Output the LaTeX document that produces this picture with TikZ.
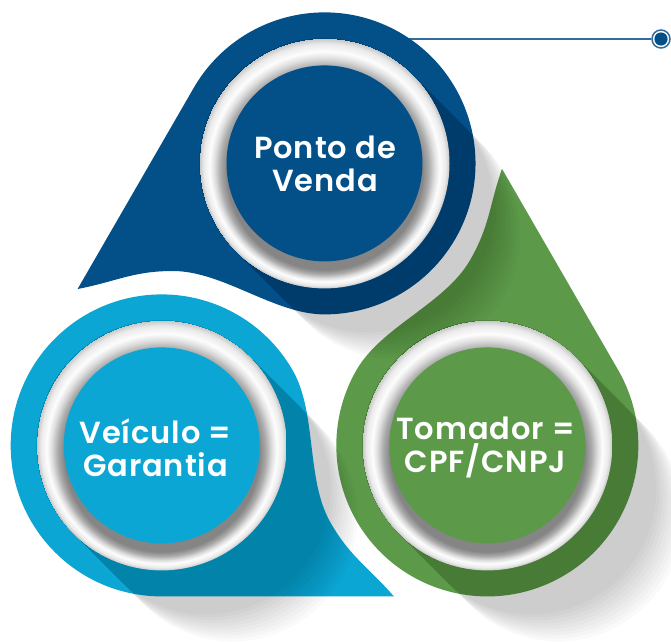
\documentclass[tikz,border=0pt]{standalone}
\usepackage{fontspec}
\newfontfamily\lblfont{Poppins}[UprightFont={* SemiBold}, LetterSpace=3]
\definecolor{dblue}{RGB}{3,80,137}
\definecolor{lblue}{RGB}{12,166,212}
\definecolor{lgreen}{RGB}{92,154,74}
\definecolor{lineblue}{RGB}{50,108,158}
\definecolor{rdk}{RGB}{133,133,133}
\definecolor{rmd}{RGB}{170,170,170}
\definecolor{rlt}{RGB}{222,222,222}
\definecolor{rhl}{RGB}{253,253,253}
\definecolor{rsf}{RGB}{234,234,234}
\definecolor{redge}{RGB}{198,198,198}
\pgfdeclareradialshading{ringshade}{\pgfpoint{0bp}{-8bp}}{color(0bp)=(rdk); color(19.5bp)=(rdk); color(20.8bp)=(rmd); color(22bp)=(rlt); color(23bp)=(rhl); color(24.2bp)=(rsf); color(25bp)=(redge)}
\def\tearpath{(0,37) .. controls (-50,37) and (-101.5,80.4) .. (-151.5,80.4) .. controls (-191.5,80.4) and (-207.6,70) .. (-246.9,62.4) -- (-130.77,263.5) arc[start angle=150,end angle=-90,radius=151] -- cycle}
\begin{document}
\begin{tikzpicture}[x=1pt,y=1pt,
  lbl/.style={text=white, align=center, font=\lblfont\fontsize{30.5}{33}\selectfont, inner sep=0pt},
  ringbox/.style={shading=ringshade},
  discbox/.style={circle, minimum size=196pt, inner sep=0pt},
  shadowbox/.style={black, opacity=0.021},
  dotbox/.style={circle, draw=lineblue, line width=1.5pt, fill=white, minimum size=18pt, inner sep=0pt},
  linkline/.style={lineblue, line width=1.6pt}]
\useasboundingbox (-324.5,-289.6) rectangle (346.5,351.4);
\fill[white] (-324.5,-289.6) rectangle (346.5,351.4);
\coordinate (c0) at (0,188);
\coordinate (c1) at (-162.8,-94);
\coordinate (c2) at (162.8,-94);
% connector behind the top shape
\node[dotbox] (dot) at (336.5,312.4) {};
\fill[dblue] (dot.center) circle[radius=6.6];
\coordinate (lend) at (60,312.4);
\draw[linkline] (dot.west) -- (lend);
% teardrops
\fill[dblue] \tearpath;
\fill[lblue, rotate=120] \tearpath;
\fill[lgreen, rotate=240] \tearpath;
% long shadows of rings
\foreach \c in {c0,c1,c2}{
  \foreach \d in {44,47,...,71}{
    \fill[shadowbox] (\c) ++(45:125) arc[start angle=45,end angle=225,radius=125] -- ++(\d,-\d) arc[start angle=225,end angle=405,radius=125] -- cycle;
  }
}
% rings and discs
\shade[ringbox] (c0) circle[radius=125];
\shade[ringbox] (c1) circle[radius=125];
\shade[ringbox] (c2) circle[radius=125];
\node[discbox, fill=dblue] (d0) at (c0) {};
\node[discbox, fill=lblue] (d1) at (c1) {};
\node[discbox, fill=lgreen] (d2) at (c2) {};
% labels
\node[lbl] (t0) at (0.5,188) {Ponto de\\Venda};
\node[lbl] (t1) at (-169,-96) {Veículo =\\Garantia};
\node[lbl] (t2) at (161,-96) {Tomador =\\CPF/CNPJ};
\end{tikzpicture}
\end{document}
